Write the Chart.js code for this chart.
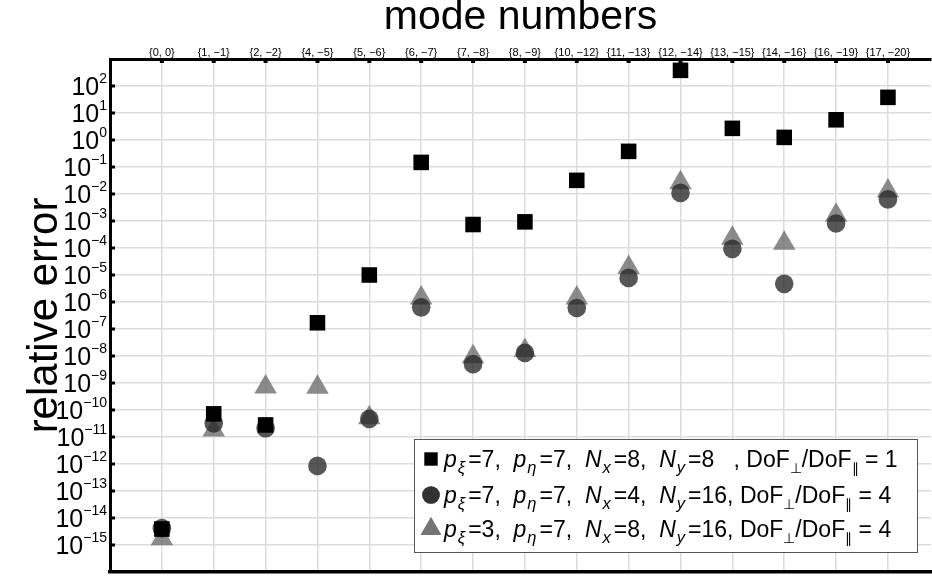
<!DOCTYPE html>
<html>
<head>
<meta charset="utf-8">
<script src="https://cdn.jsdelivr.net/npm/chart.js@4.4.0/dist/chart.umd.min.js"></script>
<style>
  html, body { margin: 0; padding: 0; background: #fff; overflow: hidden; }
  #wrap { width: 932px; height: 578px; position: relative; }
</style>
</head>
<body>
<div id="wrap"><canvas id="c" width="932" height="578"></canvas></div>
<script>
// Mode-number pairs {m, n} along the top axis
const modeLabels = ['{0, 0}', '{1, −1}', '{2, −2}', '{4, −5}', '{5, −6}', '{6, −7}', '{7, −8}',
  '{8, −9}', '{10, −12}', '{11, −13}', '{12, −14}', '{13, −15}', '{14, −16}', '{16, −19}', '{17, −20}'];

// Relative error per mode for the three discretisations
const errSquare   = [3.9e-15, 7.2e-11, 2.8e-11, 1.7e-7, 1.0e-5, 0.148, 7.4e-4, 9.3e-4, 0.032, 0.38, 380, 2.7, 1.25, 5.6, 38];
const errCircle   = [4.2e-15, 3.2e-11, 2.1e-11, 8.5e-13, 4.7e-11, 6.3e-7, 5.0e-9, 1.3e-8, 6.0e-7, 7.8e-6, 0.011, 9.3e-5, 4.7e-6, 8.1e-4, 6.3e-3];
const errTriangle = [1.7e-15, 1.8e-11, 7.1e-10, 7.0e-10, 5.2e-11, 1.4e-6, 9.4e-9, 1.6e-8, 1.4e-6, 1.9e-5, 0.026, 2.3e-4, 1.5e-4, 1.65e-3, 0.013];

// Decades labelled on the vertical axis
const yTickExponents = [2, 1, 0, -1, -2, -3, -4, -5, -6, -7, -8, -9, -10, -11, -12, -13, -14, -15];

// Series names; legendRich holds the same text split into styled runs
// ('i' = italic, 's' = subscript)
const seriesNames = [
  'pξ=7, pη=7, Nx=8, Ny=8  , DoF⊥/DoF∥ = 1',
  'pξ=7, pη=7, Nx=4, Ny=16, DoF⊥/DoF∥ = 4',
  'pξ=3, pη=7, Nx=8, Ny=16, DoF⊥/DoF∥ = 4'
];
const legendRich = [
  [['p','i'],['ξ','is'],['=7,  '],['p','i'],['η','is'],['=7,  '],['N','i'],['x','is'],['=8,  '],['N','i'],['y','is'],['=8   , DoF'],['⊥','s'],['/DoF'],['∥','s'],[' = 1']],
  [['p','i'],['ξ','is'],['=7,  '],['p','i'],['η','is'],['=7,  '],['N','i'],['x','is'],['=4,  '],['N','i'],['y','is'],['=16, DoF'],['⊥','s'],['/DoF'],['∥','s'],[' = 4']],
  [['p','i'],['ξ','is'],['=3,  '],['p','i'],['η','is'],['=7,  '],['N','i'],['x','is'],['=8,  '],['N','i'],['y','is'],['=16, DoF'],['⊥','s'],['/DoF'],['∥','s'],[' = 4']]
];

const FONT = '"Liberation Sans", Arial, Helvetica, sans-serif';
const GRID = '#dcdcdc';

const toPoints = arr => arr.map((v, i) => ({ x: i, y: v }));

const styles = [
  { pointStyle: 'rect',     radius: 11, color: '#000000' },
  { pointStyle: 'circle',   radius: 9.3, color: 'rgba(40,40,40,0.78)' },
  { pointStyle: 'triangle', radius: 13, color: 'rgba(110,110,110,0.8)' }
];
const series = [errSquare, errCircle, errTriangle];

const datasets = series.map((arr, k) => ({
  label: seriesNames[k],
  data: toPoints(arr),
  pointStyle: styles[k].pointStyle,
  pointRadius: styles[k].radius,
  pointHoverRadius: styles[k].radius,
  backgroundColor: styles[k].color,
  borderWidth: 0,
  showLine: false,
  xAxisID: 'x',
  yAxisID: 'y'
}));

// Writes a list of styled runs; italic subscripts get a little extra room
function drawRich(ctx, runs, x, y, size) {
  for (const [t, st = ''] of runs) {
    const italic = st.includes('i');
    const sub = st.includes('s');
    const fs = sub ? (italic ? size * 0.72 : size * 0.6) : size;
    ctx.font = `${italic ? 'italic ' : ''}${fs}px ${FONT}`;
    const lead = sub && italic ? 1 : 0;
    ctx.fillText(t, x + lead, y + (sub ? size * 0.26 : 0));
    x += ctx.measureText(t).width + lead + (sub && italic ? 3 : 0);
  }
}

const decorations = {
  id: 'decorations',
  afterDraw(chart) {
    const { ctx, chartArea: a } = chart;
    const xs = chart.scales.x, ys = chart.scales.y;
    ctx.save();

    // inward tick marks on the frame
    ctx.fillStyle = '#000';
    modeLabels.forEach((_, i) => {
      const px = xs.getPixelForValue(i);
      ctx.fillRect(px - 2, a.top, 4, 4);
    });
    yTickExponents.forEach(e => {
      const py = ys.getPixelForValue(Math.pow(10, e));
      ctx.fillRect(a.left, py - 1.5, 5, 3);
    });

    // power-of-ten tick labels
    ctx.textBaseline = 'alphabetic';
    ctx.textAlign = 'left';
    yTickExponents.forEach(e => {
      const py = ys.getPixelForValue(Math.pow(10, e));
      const sup = String(e).replace('-', '−');
      ctx.font = `14px ${FONT}`;
      const sw = ctx.measureText(sup).width;
      ctx.font = `25px ${FONT}`;
      const bw = ctx.measureText('10').width;
      const right = a.left - 3;
      ctx.fillText('10', right - sw - bw, py + 9);
      ctx.font = `14px ${FONT}`;
      ctx.fillText(sup, right - sw, py - 3);
    });

    // legend box
    const L = { x: 414, y: 439, w: 503, h: 113 };
    ctx.fillStyle = '#fff';
    ctx.fillRect(L.x, L.y, L.w, L.h);
    ctx.strokeStyle = '#555';
    ctx.lineWidth = 1;
    ctx.strokeRect(L.x + 0.5, L.y + 0.5, L.w, L.h);
    const rowY = [459, 495, 529];
    rowY.forEach((cy, k) => {
      const mx = 431;
      ctx.fillStyle = styles[k].color;
      if (k === 0) {
        ctx.fillRect(mx - 6.7, cy - 6.7, 13.4, 13.4);
      } else {
        Chart.helpers.drawPoint(ctx, {
          pointStyle: styles[k].pointStyle, radius: k === 1 ? 8.8 : 12, borderWidth: 0, rotation: 0
        }, mx, cy);
        ctx.fill();
      }
      ctx.fillStyle = '#000';
      drawRich(ctx, legendRich[k], 444, cy + 8, 23);
    });
    ctx.restore();
  }
};

new Chart(document.getElementById('c'), {
  type: 'scatter',
  data: { datasets },
  plugins: [decorations],
  options: {
    responsive: false,
    animation: false,
    layout: { autoPadding: false, padding: { left: 0, right: 1, top: 0, bottom: 6 } },
    plugins: { legend: { display: false }, tooltip: { enabled: false } },
    scales: {
      x: {
        type: 'linear', position: 'top', min: -1, max: 14.83,
        afterBuildTicks: s => { s.ticks = modeLabels.map((_, i) => ({ value: i })); },
        afterFit: s => { s.height = 59; },
        ticks: {
          callback: v => modeLabels[v] ?? '',
          font: { size: 11, family: FONT }, color: '#000', padding: -1,
          maxRotation: 0, autoSkip: false
        },
        grid: { color: GRID, lineWidth: 1.5, drawTicks: false },
        border: { color: '#000', width: 3 },
        title: {
          display: true, text: 'mode numbers', color: '#000',
          font: { size: 41, family: FONT }, padding: { top: -7, bottom: 0 }
        }
      },
      xb: {
        type: 'linear', position: 'bottom', min: -1, max: 14.83,
        afterFit: s => { s.height = 0; },
        ticks: { display: false },
        grid: { display: false, drawTicks: false },
        border: { color: '#000', width: 3.5 }
      },
      y: {
        type: 'logarithmic', min: 1e-16, max: 1e3,
        afterBuildTicks: s => { s.ticks = yTickExponents.map(e => ({ value: Math.pow(10, e) })); },
        afterFit: s => { s.width = 110; },
        ticks: { display: false },
        grid: { color: GRID, lineWidth: 1.5, drawTicks: false },
        border: { color: '#000', width: 3 },
        title: {
          display: true, text: 'relative error', color: '#000',
          font: { size: 42, family: FONT }, padding: { top: 20, bottom: 0 }
        }
      }
    }
  }
});
</script>
</body>
</html>
